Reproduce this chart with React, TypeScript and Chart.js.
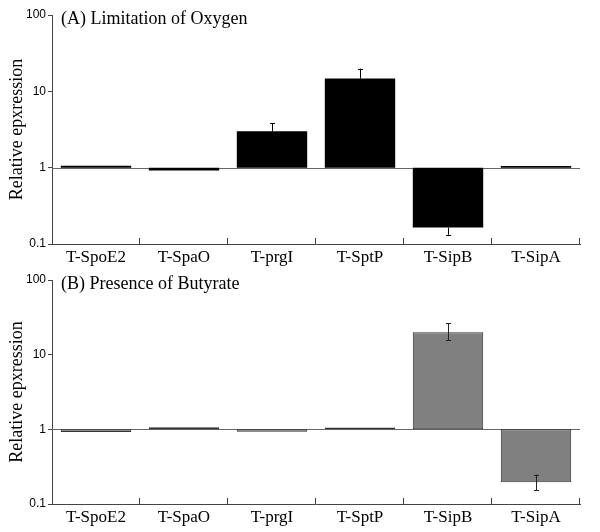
import React, { useEffect, useRef } from "react";
import { Chart, registerables } from "chart.js";
Chart.register(...registerables);

const categories = ["T-SpoE2", "T-SpaO", "T-prgI", "T-SptP", "T-SipB", "T-SipA"];
const yTickValues = [0.1, 1, 10, 100];
const baselineValue = 1;

// (A) Limitation of Oxygen
const oxygenValues = [1.06, 0.92, 3.0, 14.7, 0.164, 1.05];
const oxygenErrLow = [null, null, null, null, 0.132, null];
const oxygenErrHigh = [null, null, 3.8, 19.8, null, null];

// (B) Presence of Butyrate
const butyrateValues = [0.92, 1.07, 0.93, 1.06, 20.0, 0.195];
const butyrateErrLow = [null, null, null, null, 15.7, 0.153];
const butyrateErrHigh = [null, null, null, null, 26.3, 0.248];

const SERIF = "'Liberation Serif', 'Times New Roman', serif";
const SANS = "'Liberation Sans', Arial, sans-serif";

const decorPlugin = {
  id: "panelDecor",
  beforeDatasetsDraw(chart: any, _args: any, opts: any) {
    const { ctx, chartArea, scales } = chart;
    const x = scales.x;
    const y = scales.y;
    ctx.save();
    const yb = Math.round(y.getPixelForValue(opts.baseline)) + 0.5;
    ctx.strokeStyle = "#666";
    ctx.lineWidth = 1;
    ctx.beginPath();
    ctx.moveTo(chartArea.left, yb);
    ctx.lineTo(chartArea.right, yb);
    ctx.stroke();
    const n = x.ticks.length;
    const step = (x.right - x.left) / n;
    ctx.strokeStyle = "#444";
    for (let i = 1; i <= n; i++) {
      const px = Math.round(x.left + i * step) - 0.5;
      ctx.beginPath();
      ctx.moveTo(px, chartArea.bottom);
      ctx.lineTo(px, chartArea.bottom - 6);
      ctx.stroke();
    }
    ctx.restore();
  },
  afterDatasetsDraw(chart: any, _args: any, opts: any) {
    const { ctx, chartArea, scales } = chart;
    const x = scales.x;
    const y = scales.y;
    const values: number[] = opts.values;
    ctx.save();
    ctx.strokeStyle = opts.errColor;
    ctx.lineWidth = 1;
    values.forEach((v, i) => {
      const lo = opts.errLow[i];
      const hi = opts.errHigh[i];
      if (lo == null && hi == null) return;
      const cx = Math.round(x.getPixelForValue(i)) + 0.5;
      const yLo = y.getPixelForValue(lo == null ? v : lo);
      const yHi = y.getPixelForValue(hi == null ? v : hi);
      ctx.beginPath();
      ctx.moveTo(cx, yLo);
      ctx.lineTo(cx, yHi);
      ctx.stroke();
      const cap = 2.5;
      if (lo != null) {
        const yy = Math.round(yLo) + 0.5;
        ctx.beginPath();
        ctx.moveTo(cx - cap, yy);
        ctx.lineTo(cx + cap, yy);
        ctx.stroke();
      }
      if (hi != null) {
        const yy = Math.round(yHi) + 0.5;
        ctx.beginPath();
        ctx.moveTo(cx - cap, yy);
        ctx.lineTo(cx + cap, yy);
        ctx.stroke();
      }
    });
    ctx.fillStyle = "#000";
    ctx.font = `18px ${SERIF}`;
    ctx.textAlign = "left";
    ctx.textBaseline = "middle";
    ctx.fillText(opts.title, chartArea.left + 9, chartArea.top + 4);
    ctx.restore();
  },
};

interface PanelProps {
  title: string;
  values: number[];
  errLow: (number | null)[];
  errHigh: (number | null)[];
  fill: string;
  border: string;
  borderWidth: number;
  errColor: string;
  padTop: number;
  xHeight: number;
}

function Panel(p: PanelProps) {
  const ref = useRef<HTMLCanvasElement | null>(null);
  useEffect(() => {
    if (!ref.current) return;
    const chart = new Chart(ref.current, {
      type: "bar",
      data: {
        labels: categories,
        datasets: [
          {
            data: p.values.map((v) => [baselineValue, v]) as any,
            backgroundColor: p.fill,
            borderColor: p.border,
            borderWidth: p.borderWidth,
            borderSkipped: false,
            barPercentage: 0.8,
            categoryPercentage: 1,
          },
        ],
      },
      options: {
        responsive: false,
        devicePixelRatio: 1,
        animation: false,
        layout: { padding: { top: p.padTop, right: 20, left: 0, bottom: 0 } },
        plugins: {
          legend: { display: false },
          tooltip: { enabled: false },
          panelDecor: {
            title: p.title,
            baseline: baselineValue,
            values: p.values,
            errLow: p.errLow,
            errHigh: p.errHigh,
            errColor: p.errColor,
          },
        } as any,
        scales: {
          x: {
            type: "category",
            offset: true,
            grid: { display: false, drawTicks: false },
            border: { display: true, color: "#444", width: 1 },
            ticks: {
              color: "#000",
              font: { family: SERIF, size: 17 },
              padding: 3,
              maxRotation: 0,
              autoSkip: false,
            },
            afterFit: (s: any) => {
              s.height = p.xHeight;
            },
          },
          y: {
            type: "logarithmic",
            min: 0.1,
            max: 100,
            afterBuildTicks: (s: any) => {
              s.ticks = yTickValues.map((v) => ({ value: v }));
            },
            ticks: {
              color: "#000",
              font: { family: SANS, size: 12 },
              padding: 2,
              autoSkip: false,
              callback: (v: any) => String(v),
            },
            grid: { drawOnChartArea: false, tickLength: 4, color: "#444" },
            border: { display: true, color: "#444", width: 1 },
            title: {
              display: true,
              text: "Relative epxression",
              color: "#000",
              font: { family: SERIF, size: 18 },
              padding: { top: 6, bottom: 0 },
            },
            afterFit: (s: any) => {
              s.width = 52;
            },
          },
        },
      },
      plugins: [decorPlugin],
    });
    return () => chart.destroy();
  }, []);
  return <canvas ref={ref} width={600} height={266} style={{ display: "block" }} />;
}

export default function App() {
  return (
    <div style={{ position: "absolute", left: 0, top: 0, width: 600, height: 532, background: "#fff" }}>
      <Panel
        title="(A) Limitation of Oxygen"
        values={oxygenValues}
        errLow={oxygenErrLow}
        errHigh={oxygenErrHigh}
        fill="#000000"
        border="#000000"
        borderWidth={0}
        errColor="#000000"
        padTop={15}
        xHeight={22}
      />
      <Panel
        title="(B) Presence of Butyrate"
        values={butyrateValues}
        errLow={butyrateErrLow}
        errHigh={butyrateErrHigh}
        fill="#808080"
        border="#333333"
        borderWidth={1}
        errColor="#222222"
        padTop={14}
        xHeight={28}
      />
    </div>
  );
}
